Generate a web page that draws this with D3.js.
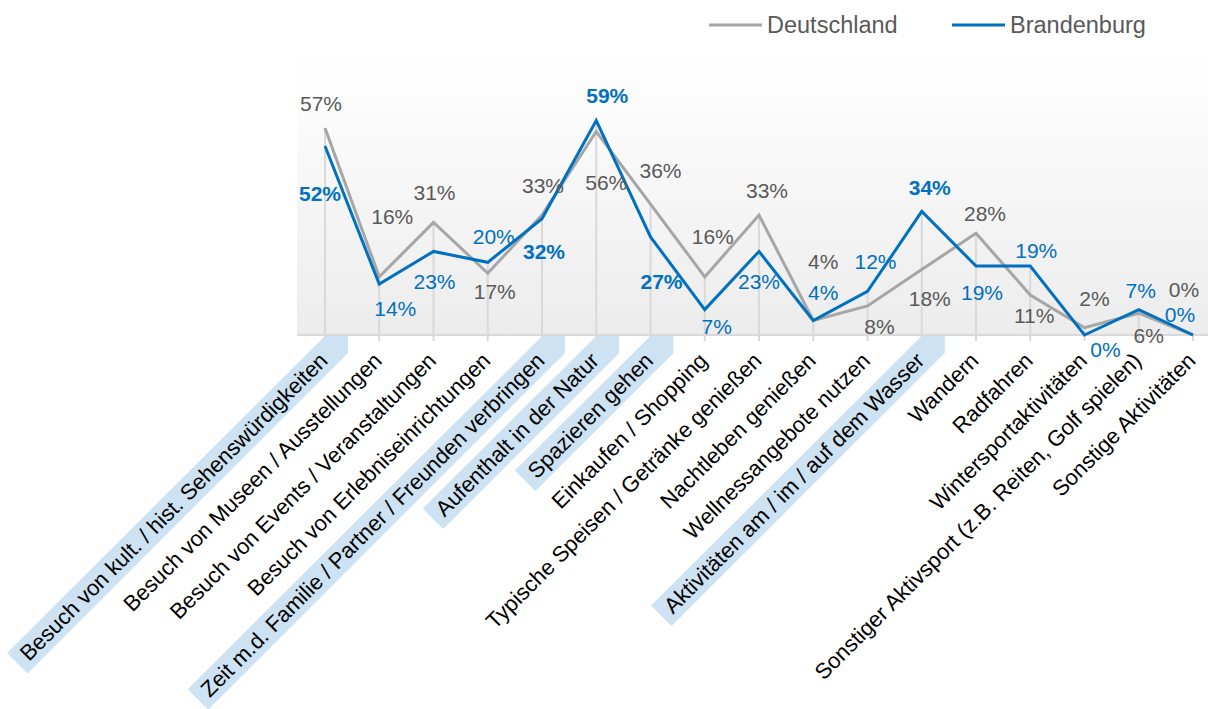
<!DOCTYPE html>
<html>
<head>
<meta charset="utf-8">
<script src="https://cdn.jsdelivr.net/npm/d3@7"></script>
<style>
  body { margin: 0; background: #fff; }
  text { font-family: "Liberation Sans", Arial, sans-serif; }
</style>
</head>
<body>
<div id="vis"></div>
<script>
// categories (x axis)
const categories = [
  "Besuch von kult. / hist. Sehenswürdigkeiten",
  "Besuch von Museen / Ausstellungen",
  "Besuch von Events / Veranstaltungen",
  "Besuch von Erlebniseinrichtungen",
  "Zeit m.d. Familie / Partner / Freunden verbringen",
  "Aufenthalt in der Natur",
  "Spazieren gehen",
  "Einkaufen / Shopping",
  "Typische Speisen / Getränke genießen",
  "Nachtleben genießen",
  "Wellnessangebote nutzen",
  "Aktivitäten am / im / auf dem Wasser",
  "Wandern",
  "Radfahren",
  "Wintersportaktivitäten",
  "Sonstiger Aktivsport (z.B. Reiten, Golf spielen)",
  "Sonstige Aktivitäten"
];
const highlighted = [
  "Besuch von kult. / hist. Sehenswürdigkeiten",
  "Zeit m.d. Familie / Partner / Freunden verbringen",
  "Aufenthalt in der Natur",
  "Spazieren gehen",
  "Aktivitäten am / im / auf dem Wasser"
];
const deutschland = [57, 16, 31, 17, 33, 56, 36, 16, 33, 4, 8, 18, 28, 11, 2, 6, 0];
const brandenburg = [52, 14, 23, 20, 32, 59, 27, 7, 23, 4, 12, 34, 19, 19, 0, 7, 0];

// label placement (offset from point to label centre / baseline)
const deLabelOffsets = [[-4,-17],[13,-53],[1,-22],[7,26],[1,-22],[10,58],[10,-26],[8,-33],[8,-17],[10,-51],[12,28],[8,36],[9,-12],[4,28],[10,-22],[10,30],[-9,-38]];
const bbLabelOffsets = [[-5,55],[16,32],[1,38],[6,-18],[2,40],[11,-18],[11,52],[12,24],[0,38],[10,-20],[8,-22],[8,-16],[6,34],[6,-8],[21,22],[2,-12],[-13,-13]];

const W = 1208, H = 709;
const svg = d3.select("#vis").append("svg").attr("width", W).attr("height", H);

const x = d3.scalePoint().domain(categories).range([325, 1193]);
const y = d3.scaleLinear().domain([0, 60]).range([335, 117]);
const baseY = y(0);

// plot area background
const defs = svg.append("defs");
const grad = defs.append("linearGradient").attr("id", "bg").attr("x1", 0).attr("y1", 0).attr("x2", 0).attr("y2", 1);
grad.append("stop").attr("offset", "0%").attr("stop-color", "#ffffff");
grad.append("stop").attr("offset", "15%").attr("stop-color", "#fdfdfd");
grad.append("stop").attr("offset", "100%").attr("stop-color", "#ececec");
svg.append("rect").attr("x", 297).attr("y", 45).attr("width", W - 297).attr("height", baseY - 45).attr("fill", "url(#bg)");

// drop lines
svg.append("g").selectAll("line")
  .data(categories)
  .join("line")
  .attr("x1", d => x(d)).attr("x2", d => x(d))
  .attr("y1", baseY + 6)
  .attr("y2", (d, i) => y(Math.max(deutschland[i], brandenburg[i])))
  .attr("stroke", "#d9d9d9").attr("stroke-width", 2);

// axis line
svg.append("line").attr("x1", 297).attr("x2", W).attr("y1", baseY).attr("y2", baseY)
  .attr("stroke", "#d9d9d9").attr("stroke-width", 2);

// category labels with highlight bands
const s = Math.SQRT1_2;
const labels = svg.append("g");
categories.forEach(c => {
  const tx = x(c);
  const px = tx + 4, py = 362;
  const g = labels.append("g");
  const band = g.append("polygon");
  const t = g.append("text")
    .attr("transform", `translate(${px},${py}) rotate(-45)`)
    .attr("text-anchor", "end")
    .attr("font-size", 22)
    .attr("fill", "#000")
    .text(c);
  if (highlighted.includes(c)) {
    const L = t.node().getComputedTextLength() + 9;
    const toS = (xr, yr) => [px + xr * s + yr * s, py - xr * s + yr * s];
    const pts = [
      [tx, baseY + 1],
      [tx + 23, baseY + 1],
      [tx + 23, baseY + 18],
      toS(-L, 7),
      toS(-L, -22)
    ];
    band.attr("points", pts.map(p => p.join(",")).join(" ")).attr("fill", "#cde2f2");
  } else {
    band.remove();
  }
});

// lines
const line = arr => d3.line().x((d, i) => x(categories[i])).y(d => y(d))(arr);
svg.append("path").attr("d", line(deutschland)).attr("fill", "none")
  .attr("stroke", "#a6a6a6").attr("stroke-width", 3).attr("stroke-linejoin", "miter");
svg.append("path").attr("d", line(brandenburg)).attr("fill", "none")
  .attr("stroke", "#0070c0").attr("stroke-width", 3).attr("stroke-linejoin", "miter");

// data labels
svg.append("g").selectAll("text")
  .data(deutschland)
  .join("text")
  .attr("x", (d, i) => x(categories[i]) + deLabelOffsets[i][0])
  .attr("y", (d, i) => y(d) + deLabelOffsets[i][1])
  .attr("text-anchor", "middle")
  .attr("font-size", 21)
  .attr("fill", "#595959")
  .text(d => d + "%");

svg.append("g").selectAll("text")
  .data(brandenburg)
  .join("text")
  .attr("x", (d, i) => x(categories[i]) + bbLabelOffsets[i][0])
  .attr("y", (d, i) => y(d) + bbLabelOffsets[i][1])
  .attr("text-anchor", "middle")
  .attr("font-size", 21)
  .attr("font-weight", (d, i) => highlighted.includes(categories[i]) ? "bold" : "normal")
  .attr("fill", "#0070c0")
  .text(d => d + "%");

// legend
const legend = [["Deutschland", "#a6a6a6", 709], ["Brandenburg", "#0070c0", 952]];
legend.forEach(([name, col, lx]) => {
  svg.append("line").attr("x1", lx).attr("x2", lx + 53).attr("y1", 25).attr("y2", 25)
    .attr("stroke", col).attr("stroke-width", 3);
  svg.append("text").attr("x", lx + 58).attr("y", 33).attr("font-size", 23.5)
    .attr("fill", "#595959").text(name);
});
</script>
</body>
</html>
